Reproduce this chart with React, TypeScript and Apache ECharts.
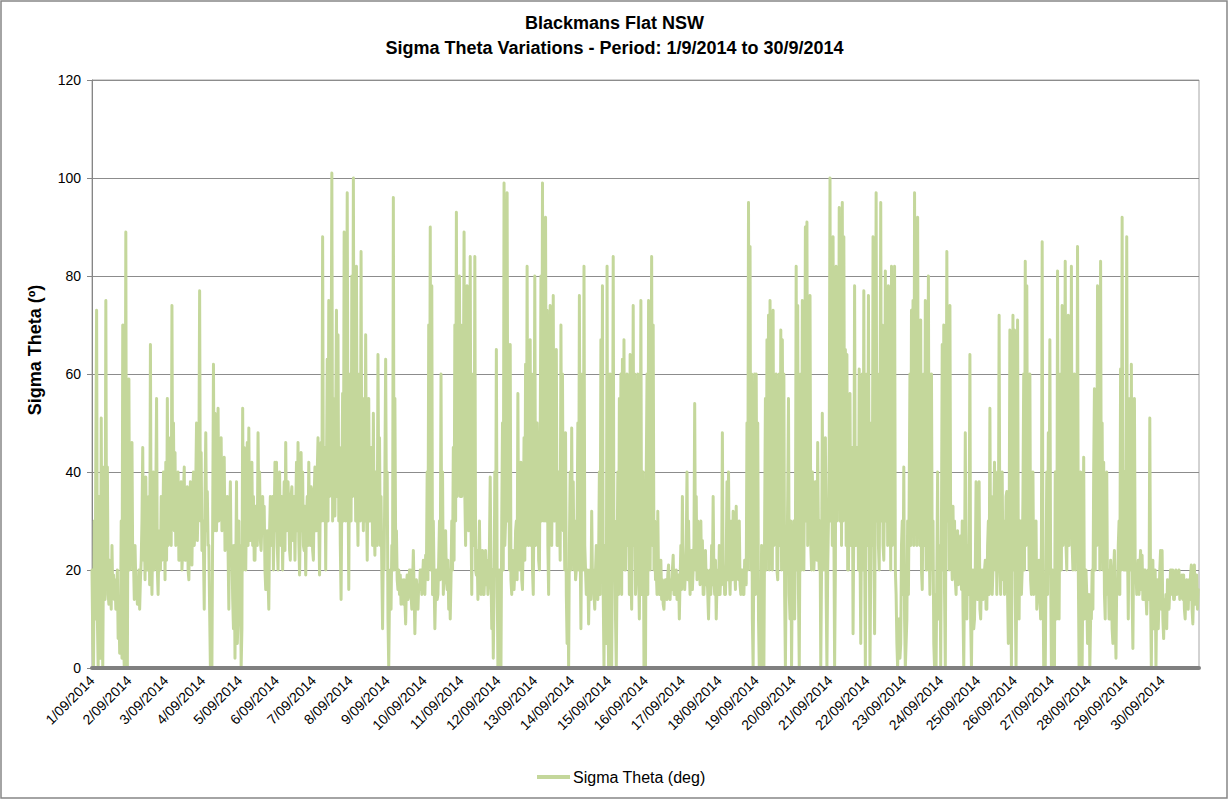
import React, { useEffect, useRef } from "react";
import * as echarts from "echarts";

const FONT = '"Liberation Sans", Arial, sans-serif';

const title1 = "Blackmans Flat NSW";
const title2 = "Sigma Theta Variations - Period: 1/9/2014 to 30/9/2014";
const yAxisTitle = "Sigma Theta (º)";
const seriesName = "Sigma Theta (deg)";

const dayLabels = [
  "1/09/2014", "2/09/2014", "3/09/2014", "4/09/2014", "5/09/2014", "6/09/2014",
  "7/09/2014", "8/09/2014", "9/09/2014", "10/09/2014", "11/09/2014", "12/09/2014",
  "13/09/2014", "14/09/2014", "15/09/2014", "16/09/2014", "17/09/2014", "18/09/2014",
  "19/09/2014", "20/09/2014", "21/09/2014", "22/09/2014", "23/09/2014", "24/09/2014",
  "25/09/2014", "26/09/2014", "27/09/2014", "28/09/2014", "29/09/2014", "30/09/2014",
];

// half-hourly sigma theta values (deg), one array per day
const d01 = [20,5,0,30,10,45,73,10,0,35,20,2,51,15,0,25,41,14,75,20,41,15,13,22,17,12,25,15,19,14,18,12,15,20,6,14,3,8,30,2,70,5,0,30,89,2,0,45];
const d02 = [59,20,40,25,46,20,22,14,25,17,18,13,16,20,12,18,22,30,45,22,30,18,39,22,20,30,35,17,66,22,15,28,40,20,24,35,55,20,15,25,28,20,35,22,26,40,34,18];
const d03 = [42,22,55,25,30,40,47,25,74,30,50,28,44,25,28,35,40,22,22,33,38,20,24,36,41,22,22,35,37,20,18,30,38,22,21,35,40,25,28,38,50,26,33,40,77,30,44,24];
const d04 = [30,24,12,35,48,28,36,25,25,12,0,10,0,30,62,28,52,30,28,40,53,30,32,42,47,28,30,38,43,24,25,34,35,24,12,30,38,22,25,14,8,25,2,20,38,5,10,30];
const d05 = [10,25,0,8,53,20,45,25,20,35,46,25,49,28,26,38,42,25,35,22,22,33,30,25,48,30,40,26,24,30,35,28,33,20,16,25,28,18,12,28,35,25,28,35,20,30,42,28];
const d06 = [42,25,20,33,40,26,25,35,20,30,38,24,46,28,30,38,32,24,22,35,37,26,28,35,22,32,42,28,46,26,19,30,44,28,40,25,24,33,19,30,35,25,42,28,25,37,36,24];
const d07 = [22,35,41,28,28,40,47,30,19,35,46,30,88,35,30,45,20,40,63,30,75,35,40,55,101,30,55,35,31,50,73,35,68,30,45,25,14,35,56,30,89,35,30,55,97,40,16,45];
const d08 = [60,30,80,35,100,40,55,30,82,35,25,50,60,30,85,35,40,28,55,30,68,35,22,40,55,30,30,45,40,25,52,30,23,40,35,25,64,35,47,25,35,20,8,25,20,40,63,30];
const d09 = [40,10,0,15,20,12,25,20,96,20,55,25,28,18,16,20,15,19,13,18,17,13,18,14,9,17,19,14,15,20,20,15,12,17,24,16,7,15,18,14,12,17,16,20,20,15,18,22];
const d10 = [19,15,23,20,40,18,70,25,90,20,78,15,30,18,8,16,20,14,15,22,30,18,60,20,40,15,20,25,28,18,16,22,12,20,10,18,30,20,45,22,70,30,93,35,70,40,80,35];
const d11 = [70,35,40,55,89,35,25,50,78,30,28,45,84,30,15,40,60,25,84,20,19,24,14,22,30,18,15,22,24,15,15,20,24,17,22,15,18,25,39,20,8,20,2,15,40,20,65,20];
const d12 = [0,15,20,2,0,30,50,20,99,25,30,40,97,30,60,20,66,18,15,24,22,16,20,28,30,18,56,22,20,30,42,18,16,28,47,22,62,25,82,30,25,40,67,25,60,20,15,35];
const d13 = [80,25,30,50,40,22,20,45,80,30,99,35,30,55,92,30,73,25,15,40,74,30,25,45,76,30,30,50,65,25,25,40,35,22,70,30,60,28,35,20,48,15,5,20,0,25,40,20];
const d14 = [49,22,38,20,30,18,20,30,50,20,76,25,8,30,60,20,82,25,20,15,15,20,9,18,20,14,32,18,20,15,12,20,25,15,14,22,40,15,67,20,78,15,0,25,20,5,82,15];
const d15 = [0,20,60,15,0,25,84,20,30,10,0,20,40,15,55,20,60,15,63,25,67,20,20,35,60,25,40,15,64,20,12,30,74,25,60,15,20,40,60,20,10,30,75,15,20,40,0,30];
const d16 = [0,40,60,15,75,25,20,45,84,25,70,20,30,18,20,15,32,18,15,20,22,14,18,13,12,17,18,15,14,19,21,15,14,18,16,20,23,15,15,18,20,14,14,19,10,18,25,16];
const d17 = [35,18,22,16,20,25,40,18,30,20,15,22,24,16,20,25,54,20,35,18,30,20,22,17,30,18,26,15,15,20,24,17,20,15,10,18,20,15,25,17,35,18,15,22,10,17,20,15];
const d18 = [25,15,20,17,48,18,20,15,15,22,38,18,40,20,15,22,30,18,32,20,20,16,33,20,25,18,30,17,15,20,20,15,15,22,20,17,50,20,95,25,86,20,60,10,0,25,60,15];
const d19 = [60,20,50,10,0,15,0,25,20,5,0,30,55,20,67,25,72,20,75,30,40,20,73,25,30,45,60,20,18,35,60,25,69,20,67,30,60,15,0,20,20,35,55,15,10,30,0,20];
const d20 = [15,30,10,25,82,20,74,15,0,30,60,20,75,25,20,45,90,30,91,25,50,30,76,25,20,40,30,20,25,38,35,22,46,25,20,30,0,20,52,25,20,35,47,15,0,20,30,45];
const d21 = [100,30,50,25,88,30,0,20,82,30,80,35,94,30,60,25,95,30,88,35,65,25,64,20,20,40,56,25,30,45,7,30,78,25,25,45,40,20,61,25,5,30,60,20,77,25,0,35];
const d22 = [60,25,76,30,0,20,50,25,88,30,7,35,97,30,60,25,20,45,95,30,70,25,22,40,81,30,60,25,78,30,40,20,82,25,30,45,82,20,15,5,0,10,10,2,5,25,30,15];
const d23 = [41,10,0,5,10,30,15,35,60,25,73,30,75,25,97,30,70,25,92,35,50,25,71,20,16,35,60,25,75,20,20,40,80,25,15,30,60,20,30,5,0,15,0,20,40,10,10,25];
const d24 = [0,30,66,20,70,15,0,40,85,30,60,20,74,25,25,18,33,20,30,18,15,25,28,17,23,19,27,16,30,12,0,20,48,15,10,25,15,30,64,10,0,15,20,8,10,20,38,15];
const d25 = [14,20,38,12,10,18,20,14,15,20,22,12,12,25,30,15,53,20,35,15,20,30,42,20,35,15,40,25,72,20,15,30,40,18,30,15,20,35,36,15,5,25,69,20,0,30,72,20];
const d26 = [69,15,0,20,71,20,10,30,30,15,20,35,60,20,83,25,78,30,40,20,60,18,15,30,40,15,17,25,30,12,15,20,22,15,10,25,87,20,0,10,0,20,40,15,48,20,67,20];
const d27 = [0,20,15,5,0,40,20,10,81,25,10,35,60,20,74,25,30,45,83,25,20,40,72,25,60,30,82,25,20,45,60,20,50,25,86,20,0,25,40,10,0,20,43,10,12,20,15,5];
const d28 = [5,15,0,10,10,20,12,40,57,20,55,25,78,30,60,20,83,25,50,20,42,15,10,30,40,15,20,10,10,22,18,8,5,20,24,10,2,18,15,25,30,15,61,20,92,25,20,40];
const d29 = [20,40,88,25,10,30,55,20,62,15,4,25,55,20,20,15,18,22,15,20,24,16,23,14,14,20,20,15,11,18,20,14,51,15,0,20,22,8,10,20,0,15,18,8,14,20,24,12];
const d30 = [24,10,6,14,10,15,8,18,15,12,16,20,20,15,20,14,14,19,20,15,16,19,20,14,18,15,19,14,19,12,10,17,18,13,12,18,14,19,21,12,9,16,21,13,15,19,12,16];

const days = [
  d01, d02, d03, d04, d05, d06, d07, d08, d09, d10, d11, d12, d13, d14, d15,
  d16, d17, d18, d19, d20, d21, d22, d23, d24, d25, d26, d27, d28, d29, d30,
];

const yMin = 0;
const yMax = 120;
const yStep = 20;

export default function App() {
  const ref = useRef<HTMLDivElement>(null);

  useEffect(() => {
    if (!ref.current) return;
    const chart = echarts.init(ref.current, null, { renderer: "svg" });
    const points: [number, number][] = [];
    days.forEach((arr, d) => {
      arr.forEach((v, i) => {
        points.push([d + i / arr.length, v]);
      });
    });

    chart.setOption({
      animation: false,
      backgroundColor: "#ffffff",
      textStyle: { fontFamily: FONT },
      title: {
        text: title1 + "\n" + title2,
        left: "center",
        top: 5,
        textStyle: {
          fontFamily: FONT,
          fontSize: 18,
          fontWeight: "bold",
          color: "#000",
          lineHeight: 25,
        },
      },
      legend: {
        data: [{ name: seriesName, icon: "rect" }],
        left: 532,
        top: 764,
        itemWidth: 33,
        itemHeight: 4,
        itemGap: 4,
        textStyle: { fontFamily: FONT, fontSize: 16, color: "#000", padding: [0, 0, 0, -2] },
      },
      grid: {
        left: 92,
        right: 30,
        top: 80,
        bottom: 132,
        show: true,
        borderColor: "#a6a6a6",
        borderWidth: 1,
        containLabel: false,
      },
      xAxis: {
        type: "value",
        min: 0,
        max: days.length,
        interval: 1,
        z: 5,
        axisLine: { onZero: false, lineStyle: { color: "#808080", width: 4 } },
        axisTick: { show: false },
        splitLine: { show: false },
        axisLabel: {
          rotate: 45,
          fontSize: 14,
          color: "#000",
          margin: 10,
          fontFamily: FONT,
          showMaxLabel: false,
          formatter: (v: number) => dayLabels[Math.round(v)] ?? "",
        },
      },
      yAxis: {
        type: "value",
        min: yMin,
        max: yMax,
        interval: yStep,
        axisLine: { show: true, lineStyle: { color: "#868686", width: 1 } },
        axisTick: { show: true, length: 5, lineStyle: { color: "#868686" } },
        axisLabel: { fontSize: 14, color: "#000", margin: 11, fontFamily: FONT },
        splitLine: { lineStyle: { color: "#8c8c8c", width: 1 } },
      },
      graphic: [
        {
          type: "rect",
          shape: { x: 1, y: 1, width: 1226, height: 797 },
          style: { fill: "none", stroke: "#878787", lineWidth: 1.5 },
          silent: true,
        },
        {
          type: "text",
          x: 35,
          y: 350,
          rotation: Math.PI / 2,
          style: {
            text: yAxisTitle,
            fontFamily: FONT,
            fontSize: 18,
            fontWeight: "bold",
            fill: "#000",
            align: "center",
            verticalAlign: "middle",
          },
        },
      ],
      series: [
        {
          name: seriesName,
          type: "line",
          data: points,
          showSymbol: false,
          symbol: "none",
          color: "#C4D79B",
          lineStyle: { color: "#C4D79B", width: 3, cap: "round", join: "round" },
          z: 2,
        },
      ],
    });
    return () => chart.dispose();
  }, []);

  return (
    <div
      ref={ref}
      style={{ position: "absolute", left: 0, top: 0, width: 1229, height: 800 }}
    />
  );
}
